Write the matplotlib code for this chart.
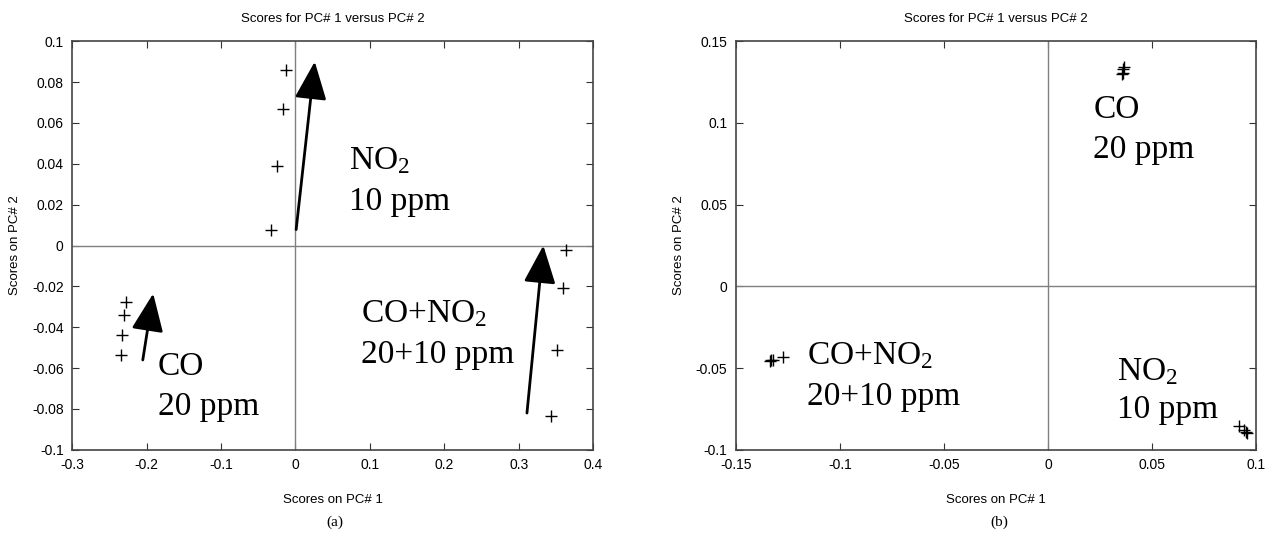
import numpy as np
import matplotlib
matplotlib.use("Agg")
import matplotlib.pyplot as plt

plt.rcParams['font.family'] = ['Liberation Sans', 'DejaVu Sans']
plt.rcParams['axes.unicode_minus'] = False
plt.rcParams['mathtext.fontset'] = 'custom'
plt.rcParams['mathtext.rm'] = 'Liberation Serif'
plt.rcParams['mathtext.it'] = 'Liberation Serif'

# ---------------- panel (a) data ----------------
a_no2_x = [-0.013, -0.017, -0.025, -0.033]
a_no2_y = [0.0858, 0.067, 0.0387, 0.0074]
a_co_x = [-0.228, -0.230, -0.233, -0.234]
a_co_y = [-0.0275, -0.0338, -0.0436, -0.0534]
a_mix_x = [0.363, 0.359, 0.351, 0.343]
a_mix_y = [-0.002, -0.0206, -0.051, -0.0833]

# ---------------- panel (b) data ----------------
b_co_x = [0.0365, 0.036, 0.036, 0.0355]
b_co_y = [0.1345, 0.133, 0.1305, 0.130]
b_mix_x = [-0.1335, -0.133, -0.132, -0.1275]
b_mix_y = [-0.0455, -0.045, -0.0448, -0.043]
b_no2_x = [0.0915, 0.094, 0.095, 0.0955]
b_no2_y = [-0.0855, -0.088, -0.089, -0.0895]

title = "Scores for PC# 1 versus PC# 2"
serif = ['Liberation Serif', 'DejaVu Serif']

fig = plt.figure(figsize=(12.73, 5.42), dpi=100)
ax1 = fig.add_axes([0.0566, 0.170, 0.4094, 0.754])
ax2 = fig.add_axes([0.578, 0.170, 0.409, 0.754])


def style(ax, xlim, ylim, xticks, yticks):
    ax.set_xlim(*xlim)
    ax.set_ylim(*ylim)
    ax.set_xticks(xticks)
    ax.set_yticks(yticks)
    ax.set_xticklabels(['%g' % round(t, 4) for t in xticks])
    ax.set_yticklabels(['%g' % round(t, 4) for t in yticks])
    ax.tick_params(direction='in', length=5, top=True, right=True,
                   labelsize=10, color='#333333', pad=6)
    for s in ax.spines.values():
        s.set_color('#444444')
        s.set_linewidth(1.2)
    ax.axhline(0, color='#808080', lw=1.0)
    ax.axvline(0, color='#808080', lw=1.0)
    ax.set_title(title, fontsize=9.5, pad=14)
    ax.set_xlabel("Scores on PC# 1", fontsize=9.5, labelpad=16)
    ax.set_ylabel("Scores on PC# 2", fontsize=9.5, labelpad=8)


def arrow(ax, tail, tip):
    ax.annotate('', xy=tip, xytext=tail,
                arrowprops=dict(arrowstyle='-|>,head_length=1.3,head_width=0.55',
                                color='black', lw=2, mutation_scale=18,
                                shrinkA=0, shrinkB=0))


def label(ax, x, y, s):
    ax.text(x, y, s, fontsize=24, family=serif, va='baseline')


# panel (a)
style(ax1, (-0.3, 0.4), (-0.1, 0.1),
      np.round(np.arange(-0.3, 0.41, 0.1), 2),
      np.round(np.arange(-0.1, 0.101, 0.02), 2))
for xs, ys in [(a_no2_x, a_no2_y), (a_co_x, a_co_y), (a_mix_x, a_mix_y)]:
    ax1.plot(xs, ys, '+', color='black', ms=8, mew=1)
arrow(ax1, (0.001, 0.0078), (0.026, 0.090))
arrow(ax1, (-0.205, -0.056), (-0.191, -0.0235))
arrow(ax1, (0.311, -0.082), (0.333, 0.0))
label(ax1, 0.072, 0.0373, 'NO$_2$')
label(ax1, 0.072, 0.0176, '10 ppm')
label(ax1, -0.185, -0.0632, 'CO')
label(ax1, -0.185, -0.0828, '20 ppm')
label(ax1, 0.088, -0.0377, 'CO+NO$_2$')
label(ax1, 0.088, -0.0574, '20+10 ppm')

# panel (b)
style(ax2, (-0.15, 0.1), (-0.1, 0.15),
      np.round(np.arange(-0.15, 0.101, 0.05), 2),
      np.round(np.arange(-0.1, 0.151, 0.05), 2))
for xs, ys in [(b_co_x, b_co_y), (b_mix_x, b_mix_y), (b_no2_x, b_no2_y)]:
    ax2.plot(xs, ys, '+', color='black', ms=8, mew=1)
label(ax2, 0.0216, 0.103, 'CO')
label(ax2, 0.0216, 0.0787, '20 ppm')
label(ax2, -0.116, -0.0476, 'CO+NO$_2$')
label(ax2, -0.116, -0.0726, '20+10 ppm')
label(ax2, 0.033, -0.0573, 'NO$_2$')
label(ax2, 0.033, -0.0805, '10 ppm')

fig.text(0.263, 0.03, '(a)', fontsize=11, family=serif, ha='center')
fig.text(0.785, 0.03, '(b)', fontsize=11, family=serif, ha='center')

fig.savefig('out.png', dpi=100)
